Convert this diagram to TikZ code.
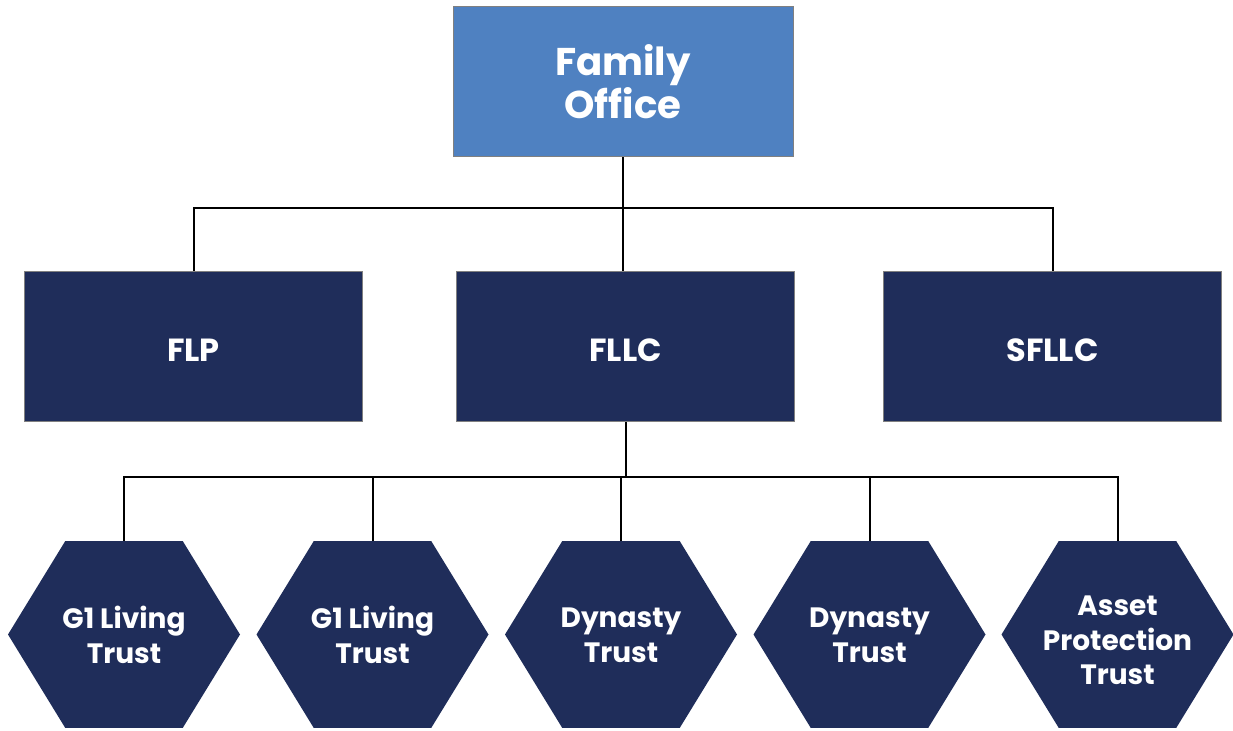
\documentclass[tikz,border=0pt]{standalone}
\usepackage{fontspec}
\setmainfont{Poppins}
\usetikzlibrary{shapes.symbols}
\definecolor{officeblue}{HTML}{4F81C1}
\definecolor{entitynavy}{HTML}{1F2D5A}
\tikzset{
    officebox/.style={draw=gray, line width=0.75pt, fill=officeblue, text=white, align=center,
        minimum width=255pt, minimum height=112.5pt, font=\bfseries\fontsize{29}{32}\selectfont},
    entitybox/.style={draw=gray, line width=0.75pt, fill=entitynavy, text=white,
        text height=23pt, text depth=0pt,
        minimum width=254pt, minimum height=113pt, font=\bfseries\fontsize{24}{28}\selectfont},
    trusthex/.style={signal, signal to=east and west, signal pointer angle=117, fill=entitynavy,
        inner sep=0pt, minimum width=174pt, minimum height=140pt},
    trustlabel/.style={text=white, align=center, inner sep=0pt, yshift=-0.5pt,
        font=\bfseries\fontsize{21}{26}\selectfont},
    link/.style={line width=1.5pt}
}
\begin{document}
\begin{tikzpicture}[x=0.75pt, y=-0.75pt]
    \useasboundingbox (0,0) rectangle (1233,731);
    % Oficina familiar
    \node[officebox] (office) at (623,82) {Family\\Office};

    % Entidades
    \node[entitybox] (flp) at (193.5,346.5) {FLP};
    \node[entitybox] (fllc) at (625.5,346.5) {FLLC};
    \node[entitybox] (sfllc) at (1052.5,346.5) {SFLLC};

    % Fideicomisos
    \node[trusthex] (g1a) at (124,634.5) {};
    \node[trusthex] (g1b) at (372.5,634.5) {};
    \node[trusthex] (dyna) at (621,634.5) {};
    \node[trusthex] (dynb) at (869.5,634.5) {};
    \node[trusthex] (apt) at (1117.5,634.5) {};
    \node[trustlabel] (g1atext) at (g1a) {G1 Living\\Trust};
    \node[trustlabel] (g1btext) at (g1b) {G1 Living\\Trust};
    \node[trustlabel] (dynatext) at (dyna) {Dynasty\\Trust};
    \node[trustlabel] (dynbtext) at (dynb) {Dynasty\\Trust};
    \node[trustlabel, yshift=-4pt] (apttext) at (apt) {Asset\\Protection\\Trust};

    % Conexiones
    \draw[link] (office.south) -- (office.south |- fllc.north);
    \draw[link] (flp.north) -- ++(0,-63) -| (sfllc.north);
    \draw[link] (fllc.south) -- (fllc.south |- 0,477);
    \draw[link] (g1a.north) -- ++(0,-64) -| (apt.north);
    \draw[link] (g1b.north) -- ++(0,-64);
    \draw[link] (dyna.north) -- ++(0,-64);
    \draw[link] (dynb.north) -- ++(0,-64);
\end{tikzpicture}
\end{document}
